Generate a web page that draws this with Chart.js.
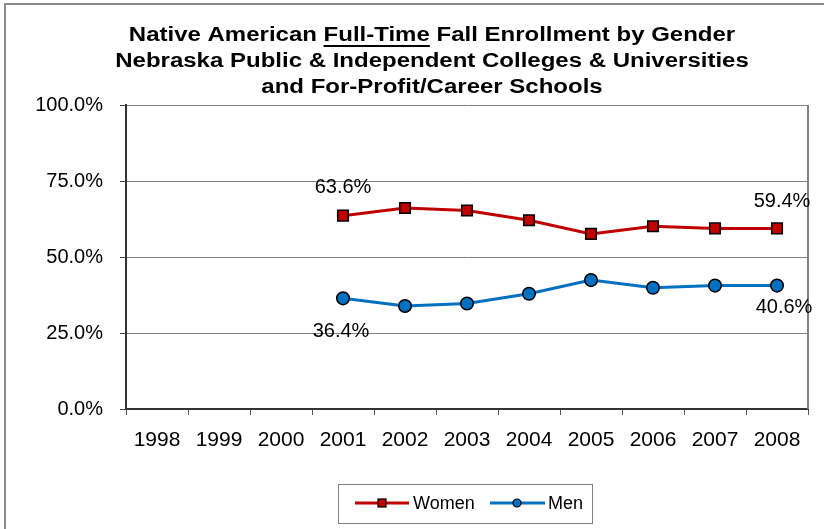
<!DOCTYPE html>
<html>
<head>
<meta charset="utf-8">
<script src="https://cdn.jsdelivr.net/npm/chart.js@4.4.1/dist/chart.umd.min.js"></script>
<style>
  html, body { margin: 0; padding: 0; background: #ffffff; }
  #wrap { width: 824px; height: 529px; }
</style>
</head>
<body>
<div id="wrap"><canvas id="c" width="824" height="529"></canvas></div>
<script>
// ---- data ----
const years = ['1998','1999','2000','2001','2002','2003','2004','2005','2006','2007','2008'];
const women = [null, null, null, 63.6, 66.1, 65.3, 62.1, 57.6, 60.1, 59.4, 59.4];
const men   = [null, null, null, 36.4, 33.9, 34.7, 37.9, 42.4, 39.9, 40.6, 40.6];
const yTicks = [0, 25, 50, 75, 100];
const titleLines = [
  ['Native American ', 'Full-Time', ' Fall Enrollment by Gender'],
  ['Nebraska Public & Independent Colleges & Universities'],
  ['and For-Profit/Career Schools']
];
const seriesNames = ['Women', 'Men'];

const FONT = '"Liberation Sans", Arial, sans-serif';
const RED = '#C00000';
const BLUE = '#0070C0';

const framePlugin = {
  id: 'frame',
  beforeDraw(chart) {
    const ctx = chart.ctx;
    ctx.save();
    ctx.fillStyle = '#ffffff';
    ctx.fillRect(0, 0, chart.width, chart.height);
    ctx.strokeStyle = '#8c8c8c';
    ctx.lineWidth = 2;
    ctx.strokeRect(5, 4, chart.width + 20, chart.height + 20);
    ctx.restore();
  },
  beforeDatasetsDraw(chart) {
    const ctx = chart.ctx, a = chart.chartArea;
    ctx.save();
    ctx.strokeStyle = '#808080';
    ctx.lineWidth = 2;
    ctx.beginPath();
    ctx.moveTo(a.right, a.top);
    ctx.lineTo(a.right, a.bottom);
    ctx.stroke();
    ctx.restore();
  },
  afterDraw(chart) {
    const ctx = chart.ctx;
    ctx.save();
    // title (slightly widened like the original rendering)
    const sx = 1.2;
    const cx = 432;
    const ys = [35, 61, 87];
    ctx.translate(cx, 0);
    ctx.scale(sx, 1);
    ctx.font = 'bold 20px ' + FONT;
    ctx.fillStyle = '#000000';
    ctx.textBaseline = 'middle';
    titleLines.forEach((parts, li) => {
      const total = parts.reduce((s, p) => s + ctx.measureText(p).width, 0);
      let x = -total / 2;
      parts.forEach((p, pi) => {
        ctx.textAlign = 'left';
        ctx.fillText(p, x, ys[li]);
        const w = ctx.measureText(p).width;
        if (li === 0 && pi === 1) {
          ctx.fillRect(x, ys[li] + 10, w, 2);
        }
        x += w;
      });
    });
    ctx.setTransform(1, 0, 0, 1, 0, 0);
    // legend
    ctx.strokeStyle = '#808080';
    ctx.lineWidth = 1;
    ctx.strokeRect(338.5, 484.5, 254, 39);
    const ly = 503;
    ctx.strokeStyle = RED; ctx.lineWidth = 3;
    ctx.beginPath(); ctx.moveTo(355, ly); ctx.lineTo(409, ly); ctx.stroke();
    ctx.fillStyle = RED; ctx.fillRect(378, ly - 4, 8, 8);
    ctx.strokeStyle = '#000'; ctx.lineWidth = 1.2; ctx.strokeRect(378, ly - 4, 8, 8);
    ctx.strokeStyle = BLUE; ctx.lineWidth = 3;
    ctx.beginPath(); ctx.moveTo(490, ly); ctx.lineTo(545, ly); ctx.stroke();
    ctx.fillStyle = BLUE; ctx.beginPath(); ctx.arc(517, ly, 4, 0, Math.PI * 2); ctx.fill();
    ctx.strokeStyle = '#000'; ctx.lineWidth = 1.2; ctx.stroke();
    ctx.fillStyle = '#000';
    ctx.font = '18px ' + FONT;
    ctx.textAlign = 'left';
    ctx.textBaseline = 'middle';
    ctx.fillText(seriesNames[0], 413, ly + 1);
    ctx.fillText(seriesNames[1], 548, ly + 1);
    ctx.restore();
  },
  afterDatasetsDraw(chart) {
    const ctx = chart.ctx;
    ctx.save();
    ctx.font = '20px ' + FONT;
    ctx.fillStyle = '#000';
    ctx.textAlign = 'center';
    ctx.textBaseline = 'middle';
    const labels = [
      {ds: 0, i: 3, dx: 0, dy: -28},
      {ds: 0, i: 10, dx: 5, dy: -27},
      {ds: 1, i: 3, dx: -2, dy: 33},
      {ds: 1, i: 10, dx: 7, dy: 22}
    ];
    labels.forEach(l => {
      const el = chart.getDatasetMeta(l.ds).data[l.i];
      const v = chart.data.datasets[l.ds].data[l.i];
      ctx.fillText(v.toFixed(1) + '%', el.x + l.dx, el.y + l.dy);
    });
    ctx.restore();
  }
};

new Chart(document.getElementById('c'), {
  type: 'line',
  data: {
    labels: years,
    datasets: [
      {
        label: seriesNames[0], data: women,
        borderColor: RED, backgroundColor: RED, borderWidth: 3,
        pointStyle: 'rect', pointRadius: 7.5, pointHoverRadius: 7.5,
        pointBorderColor: '#000', pointBorderWidth: 1.5, pointBackgroundColor: RED,
        tension: 0, spanGaps: false
      },
      {
        label: seriesNames[1], data: men,
        borderColor: BLUE, backgroundColor: BLUE, borderWidth: 3,
        pointStyle: 'circle', pointRadius: 6.3, pointHoverRadius: 6.3,
        pointBorderColor: '#000', pointBorderWidth: 1.5, pointBackgroundColor: BLUE,
        tension: 0, spanGaps: false
      }
    ]
  },
  options: {
    responsive: false,
    animation: false,
    devicePixelRatio: 1,
    layout: { padding: { left: 6, right: 16, top: 105, bottom: 70 } },
    plugins: { legend: { display: false }, title: { display: false }, tooltip: { enabled: false } },
    scales: {
      x: {
        type: 'category',
        offset: true,
        grid: { display: true, drawOnChartArea: false, drawTicks: true, tickLength: 6, color: '#555555', offset: true },
        border: { display: true, color: '#333333', width: 2 },
        ticks: { color: '#000', font: { family: FONT, size: 21 }, padding: 13, maxRotation: 0, autoSkip: false },
        afterFit(axis) { axis.height = 50; }
      },
      y: {
        min: 0, max: 100,
        afterBuildTicks(axis) { axis.ticks = yTicks.map(v => ({ value: v })); },
        grid: { color: '#808080', lineWidth: 1, tickLength: 6, tickColor: '#444444' },
        border: { display: true, color: '#333333', width: 2 },
        ticks: { color: '#000', font: { family: FONT, size: 20 }, padding: 17,
                 callback: v => v.toFixed(1) + '%' },
        afterFit(axis) { axis.width = 120; }
      }
    }
  },
  plugins: [framePlugin]
});
</script>
</body>
</html>
